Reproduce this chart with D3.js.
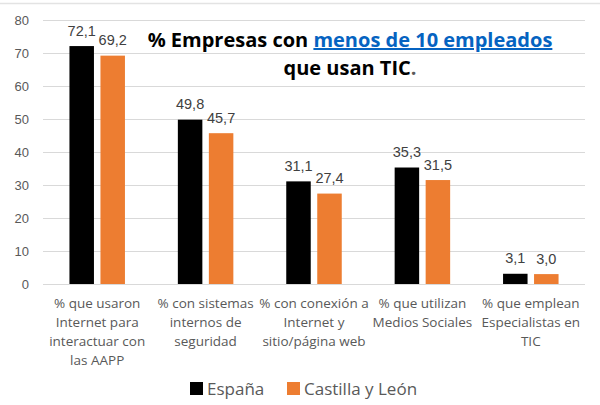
<!DOCTYPE html>
<html lang="es">
<head>
  <meta charset="UTF-8" />
  <title>Empresas TIC</title>
  <script src="https://d3js.org/d3.v7.min.js"></script>
  <style>
    body { margin: 0; background: #fff; }
    .grid line { stroke: #d9d9d9; stroke-width: 1px; }
    .ytick { font: 13px "Liberation Sans", Arial, sans-serif; fill: #595959; }
    .vlabel { font: 14.5px "Liberation Sans", Arial, sans-serif; fill: #404040; }
    .cat { font: 13.5px "Open Sans", "Noto Sans", sans-serif; fill: #595959; }
    .legend text { font: 17px "Open Sans", "Noto Sans", sans-serif; fill: #595959; }
  </style>
</head>
<body>
  <div id="chart"></div>
  <script>
    const categories = [
      ["% que usaron", "Internet para", "interactuar con", "las AAPP"],
      ["% con sistemas", "internos de", "seguridad"],
      ["% con conexión a", "Internet y", "sitio/página web"],
      ["% que utilizan", "Medios Sociales"],
      ["% que emplean", "Especialistas en", "TIC"]
    ];
    const espana = [72.1, 49.8, 31.1, 35.3, 3.1];
    const castilla = [69.2, 45.7, 27.4, 31.5, 3.0];
    const seriesNames = ["España", "Castilla y León"];
    const yTicks = [0, 10, 20, 30, 40, 50, 60, 70, 80];

    const W = 600, H = 405;
    const plotLeft = 43, plotRight = 585, plotTop = 20, plotBottom = 284;
    const colors = ["#000000", "#ED7D31"];

    const svg = d3.select("#chart").append("svg")
      .attr("width", W).attr("height", H);

    // top border line
    svg.append("line")
      .attr("x1", 0).attr("x2", W).attr("y1", 3.5).attr("y2", 3.5)
      .attr("stroke", "#e3e3e3").attr("stroke-width", 1.5);

    const x = d3.scaleBand().domain(d3.range(categories.length))
      .range([plotLeft, plotRight]);
    const y = d3.scaleLinear().domain([0, 80]).range([plotBottom, plotTop]);

    const grid = svg.append("g").attr("class", "grid");
    grid.selectAll("line").data(yTicks).enter().append("line")
      .attr("x1", plotLeft).attr("x2", plotRight)
      .attr("y1", d => Math.round(y(d)) + 0.5)
      .attr("y2", d => Math.round(y(d)) + 0.5);

    svg.selectAll(".ytick").data(yTicks).enter().append("text")
      .attr("class", "ytick")
      .attr("x", 29).attr("y", d => y(d) + 4.5)
      .attr("text-anchor", "end")
      .text(d => d);

    const barW = 24.5, gap = 6.5;
    const series = [espana, castilla];
    series.forEach((vals, s) => {
      const off = s === 0 ? -(gap / 2 + barW) : gap / 2;
      const g = svg.append("g");
      g.selectAll("rect").data(vals).enter().append("rect")
        .attr("x", (d, i) => x(i) + x.bandwidth() / 2 + off)
        .attr("y", d => y(d))
        .attr("width", barW)
        .attr("height", d => plotBottom - y(d))
        .attr("fill", colors[s]);
      g.selectAll("text").data(vals).enter().append("text")
        .attr("class", "vlabel")
        .attr("x", (d, i) => x(i) + x.bandwidth() / 2 + off + barW / 2)
        .attr("y", d => y(d) - 10.5)
        .attr("text-anchor", "middle")
        .text(d => d.toFixed(1).replace(".", ","));
    });

    // category labels
    categories.forEach((lines, i) => {
      const t = svg.append("text").attr("class", "cat")
        .attr("text-anchor", "middle");
      lines.forEach((ln, j) => {
        t.append("tspan")
          .attr("x", x(i) + x.bandwidth() / 2)
          .attr("y", 308 + j * 19)
          .text(ln);
      });
    });

    // title
    const titleFont = "bold 20px 'Open Sans', 'Noto Sans', sans-serif";
    const title = svg.append("text")
      .attr("x", 350).attr("y", 47)
      .attr("text-anchor", "middle")
      .style("font", titleFont)
      .attr("fill", "#000");
    title.append("tspan").text("% Empresas con ");
    title.append("tspan").attr("fill", "#0563C1")
      .style("text-decoration", "underline").text("menos de 10 empleados");
    const t2 = svg.append("text")
      .attr("x", 350).attr("y", 75)
      .attr("text-anchor", "middle")
      .style("font", titleFont)
      .attr("fill", "#000");
    t2.append("tspan").text("que usan TIC");
    t2.append("tspan").attr("fill", "#595959").text(".");

    // legend
    const legend = svg.append("g").attr("class", "legend");
    const legX = [190, 287];
    seriesNames.forEach((n, i) => {
      legend.append("rect")
        .attr("x", legX[i]).attr("y", 382)
        .attr("width", 13).attr("height", 13)
        .attr("fill", colors[i]);
      legend.append("text")
        .attr("x", legX[i] + 17).attr("y", 395)
        .text(n);
    });
  </script>
</body>
</html>
